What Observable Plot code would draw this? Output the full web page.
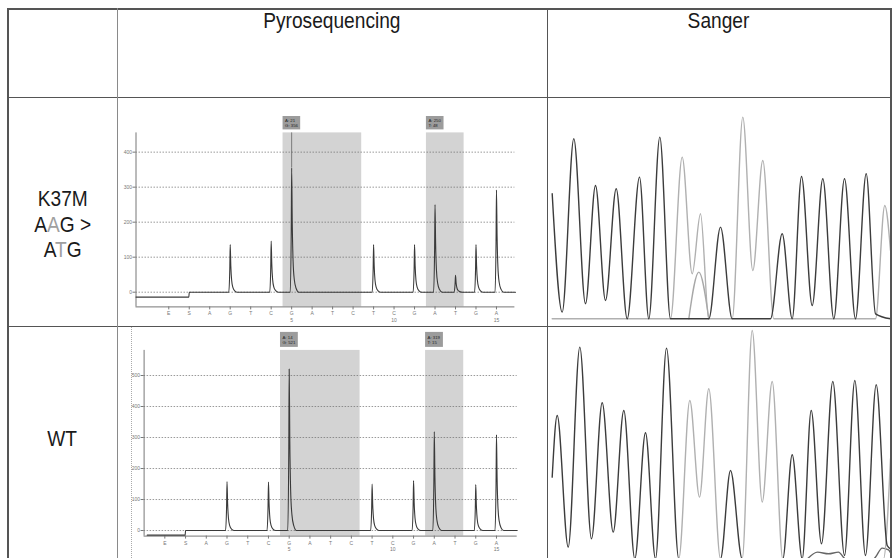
<!DOCTYPE html>
<html><head><meta charset="utf-8">
<script src="https://cdn.jsdelivr.net/npm/d3@7"></script>
<script src="https://cdn.jsdelivr.net/npm/@observablehq/plot@0.6"></script>
<style>
body{margin:0;background:#fff;}
#fig{position:relative;width:893px;height:558px;overflow:hidden;background:#fff;font-family:"Liberation Sans",Arial,sans-serif;color:#1a1a1a;}
.ln{position:absolute;z-index:5;}
.pl{position:absolute;}
.pl svg{overflow:visible;display:block;}
.hd{position:absolute;text-align:center;font-size:22px;line-height:22px;}
.rl{position:absolute;text-align:center;font-size:22px;line-height:25.5px;}
.sq{display:inline-block;transform:scaleX(0.87);transform-origin:50% 50%;}
</style></head><body><div id="fig"></div>
<script>
// ---------- data ----------
const columnTitles = ["Pyrosequencing", "Sanger"];
const rowNames = ["K37M", "WT"];
const codonRef = "AAG", codonAlt = "ATG", mutatedBase = 1;

const dispensation = ["E","S","A","G","T","C","G","A","T","C","T","C","G","A","T","G","A"];
const dispensationNumbers = [5, 10, 15];

const pyroK37M = [0,0,0,136,0,146,355,0,0,0,136,0,136,250,48,136,292];
const pyroWT   = [0,0,0,158,0,156,521,0,0,0,150,0,161,319,0,148,309];
const preSubstrateK37M = -14, preSubstrateWT = -15;
const yTicksK37M = [0,100,200,300,400];
const yTicksWT = [0,100,200,300,400,500];
const regionsK37M = [{first:7,last:10,label:"A: 21\nG: 356"},{first:14,last:15,label:"A: 250\nT: 48"}];
const regionsWT   = [{first:7,last:10,label:"A: 14\nG: 521"},{first:14,last:15,label:"A: 319\nT: 15"}];
const cursorK37M = [7];

// Sanger chromatogram extrema: [scan position, signal]
const sangerK37M_dark = [[6.7,1250],[16.7,67],[28.3,1800],[40,150],[50,1333],[60,183],[70.7,1300],[81.7,0],[94,1417],[103.3,0],[114.3,1817],[125,0],[163.3,0],[175,917],[186.7,0],[225,0],[236.7,850],[246.7,0],[256,1423],[266.7,133],[277.3,1400],[288.3,0],[299,1400],[310,0],[320.7,1450],[330,50],[345,0]];
const sangerK37M_light = [[6.7,0],[125,0],[136.7,1617],[146.7,450],[155,1050],[163.3,0],[186.7,0],[197.3,2017],[207.3,483],[217.3,1583],[228.3,0],[330,0],[339.3,1133],[345,683]];
const sangerK37M_minor = [[143.3,0],[153.3,467],[163.3,0]];
const sangerWT_dark = [[6.7,817],[11.7,1433],[22.7,117],[34.3,2117],[46,200],[56.7,1560],[67.7,267],[78.3,1483],[89.3,0],[100,1260],[110,0],[121,2107],[133.3,0],[175,0],[185,883],[196.7,0],[237.3,0],[246.7,1040],[256.7,0],[265.7,1483],[276,150],[287.3,1773],[299,33],[309.3,1783],[320,33],[330.7,1740],[341.7,133],[345,100]];
const sangerWT_light = [[6.7,0],[133.3,0],[144.3,1583],[154,617],[163.3,1700],[175,0],[196.7,0],[206.7,2283],[216.7,567],[226.7,1773],[237.3,0],[338,0],[345,1000]];
const sangerWT_minor = [[262,0],[272,67],[283,50],[293,67],[300,0],[328,0],[336.7,107],[343,90],[345,60]];

// ---------- layout helpers ----------
const fig = document.getElementById("fig");
function place(el, left, top, cls){ const d=document.createElement("div"); d.className=cls; d.style.left=left+"px"; d.style.top=top+"px"; if(el) d.appendChild(el); fig.appendChild(d); return d; }
function line(x,y,w,h,color){ const d=place(null,x,y,"ln"); d.style.width=w+"px"; d.style.height=h+"px"; d.style.background=color; return d; }

const plotStyle = {fontFamily:"Liberation Sans, Arial, sans-serif", fontSize:"5px", color:"#777", background:"transparent", overflow:"visible"};
const peakShape = [[-0.07,0],[-0.02,0.5],[0,1],[0.03,0.55],[0.07,0.25],[0.13,0.1],[0.22,0.03],[0.35,0]];

function pyroTrace(heights, pre, xStart, xEnd){
  const pts=[{x:xStart,y:pre},{x:1.98,y:pre},{x:2,y:0}];
  heights.forEach((h,i)=>{ if(h>0) peakShape.forEach(([dx,f])=>pts.push({x:i+1+dx,y:h*f})); });
  pts.push({x:xEnd,y:0});
  return pts.sort((a,b)=>a.x-b.x);
}

function pyroChart(o){
  const bottom=o.yDomain[0], top=o.yDomain[1];
  return Plot.plot({
    width:o.width, height:o.height,
    marginLeft:o.xRange[0], marginRight:o.width-o.xRange[1], marginTop:o.yRange[1], marginBottom:o.height-o.yRange[0],
    x:{domain:o.xDomain, range:o.xRange},
    y:{domain:o.yDomain, range:o.yRange},
    style:plotStyle,
    marks:[
      Plot.rect(o.regions,{x1:d=>d.first-0.42,x2:d=>d.last+0.42,y1:bottom,y2:top,fill:"#d3d3d3"}),
      Plot.gridY(o.yTicks,{stroke:"#6a6a6a",strokeOpacity:0.85,strokeDasharray:"1.5,1.5",strokeWidth:0.8}),
      Plot.ruleX([o.xDomain[0]],{stroke:"#777",strokeWidth:1}),
      Plot.ruleY([bottom],{stroke:"#777",strokeWidth:1}),
      Plot.axisY(o.yTicks,{tickSize:3,tickPadding:1,fontSize:5,label:null}),
      Plot.axisX(d3.range(1,dispensation.length+1),{tickSize:3,tickPadding:2,fontSize:5,label:null,tickFormat:t=>dispensation[t-1]}),
      Plot.text(dispensationNumbers,{x:n=>n+2,y:bottom,dy:13,text:n=>String(n),fontSize:5,fill:"#777"}),
      Plot.rect(o.regions,{x1:d=>d.first-0.42,x2:d=>d.first+0.44,y1:top,y2:top,insetTop:-o.boxTop,insetBottom:3,fill:"#9c9c9c"}),
      Plot.text(o.regions,{x:d=>d.first-0.42,y:top,dx:2,dy:-(o.boxTop+3)/2,text:"label",textAnchor:"start",fontSize:4.3,lineHeight:1.15,fill:"#222"}),
      Plot.ruleX(o.cursor,{y1:d=>o.heights[d-1],y2:top,stroke:"#555",strokeWidth:0.7}),
      Plot.line(pyroTrace(o.heights,o.pre,o.traceStart,o.traceEnd),{x:"x",y:"y",curve:"monotone-x",stroke:"#3a3a3a",strokeWidth:1.1})
    ]
  });
}

function sangerChart(o){
  return Plot.plot({
    width:o.width, height:o.height, margin:0,
    x:{domain:[0,345], range:[0,345], axis:null},
    y:{domain:[0,2000], range:[o.baseline,o.baseline-200], axis:null},
    style:plotStyle,
    marks:o.traces.map(t=>Plot.line(t.data,{x:d=>d[0],y:d=>d[1],curve:"monotone-x",stroke:t.color,strokeWidth:1.4,clip:true}))
  });
}

// ---------- plots ----------
place(pyroChart({heights:pyroK37M,pre:preSubstrateK37M,yTicks:yTicksK37M,regions:regionsK37M,cursor:cursorK37M,
  width:430,height:226,xDomain:[-0.6,17.9],xRange:[15.5,394.4],yDomain:[-42,455],yRange:[206.4,32.4],boxTop:16.4,traceStart:-0.6,traceEnd:17.93}),120,100,"pl");
place(pyroChart({heights:pyroWT,pre:preSubstrateWT,yTicks:yTicksWT,regions:regionsWT,cursor:[],
  width:430,height:232,xDomain:[0,18],xRange:[23.6,396.7],yDomain:[-18,581],yRange:[209.6,23.9],boxTop:18,traceStart:0.15,traceEnd:18}),120,326,"pl");

place(sangerChart({width:346,height:226,baseline:218.3,traces:[
  {data:sangerK37M_light,color:"#b0b0b0"},{data:sangerK37M_minor,color:"#a8a8a8"},{data:sangerK37M_dark,color:"#3c3c3c"}]}),545,100,"pl");
place(sangerChart({width:346,height:232,baseline:232.3,traces:[
  {data:sangerWT_minor,color:"#666"},{data:sangerWT_light,color:"#b0b0b0"},{data:sangerWT_dark,color:"#3c3c3c"}]}),545,326,"pl");

// ---------- table ----------
line(8,8,883,1.5,"#555");      // top
line(7,8,1.6,550,"#555");      // left
line(890,8,1.5,550,"#555");    // right
line(8,96.5,883,1.3,"#555");   // header bottom
line(8,325.5,883,1.3,"#555");  // row separator
line(116.5,8,1.8,550,"#8a8a8a");
line(546.5,8,1.6,550,"#555");
const dot = place(null,131,327,"ln"); dot.style.height="231px"; dot.style.borderLeft="1px dotted #aaa";

// header texts
const hx=[332,718.5];
columnTitles.forEach((t,i)=>{ const d=place(null,hx[i]-150,10,"hd"); d.style.width="300px"; d.innerHTML=`<span class="sq">${t}</span>`; });

// row labels
function codonHTML(c){ return c.split("").map((ch,i)=>i===mutatedBase?`<span style="color:#a0a0a0">${ch}</span>`:ch).join(""); }
const r1=place(null,8,186,"rl"); r1.style.width="109px";
r1.innerHTML=`<span class="sq">${rowNames[0]}<br>${codonHTML(codonRef)} &gt;<br>${codonHTML(codonAlt)}</span>`;
const r2=place(null,8,426,"rl"); r2.style.width="109px"; r2.innerHTML=`<span class="sq">${rowNames[1]}</span>`;
</script></body></html>
